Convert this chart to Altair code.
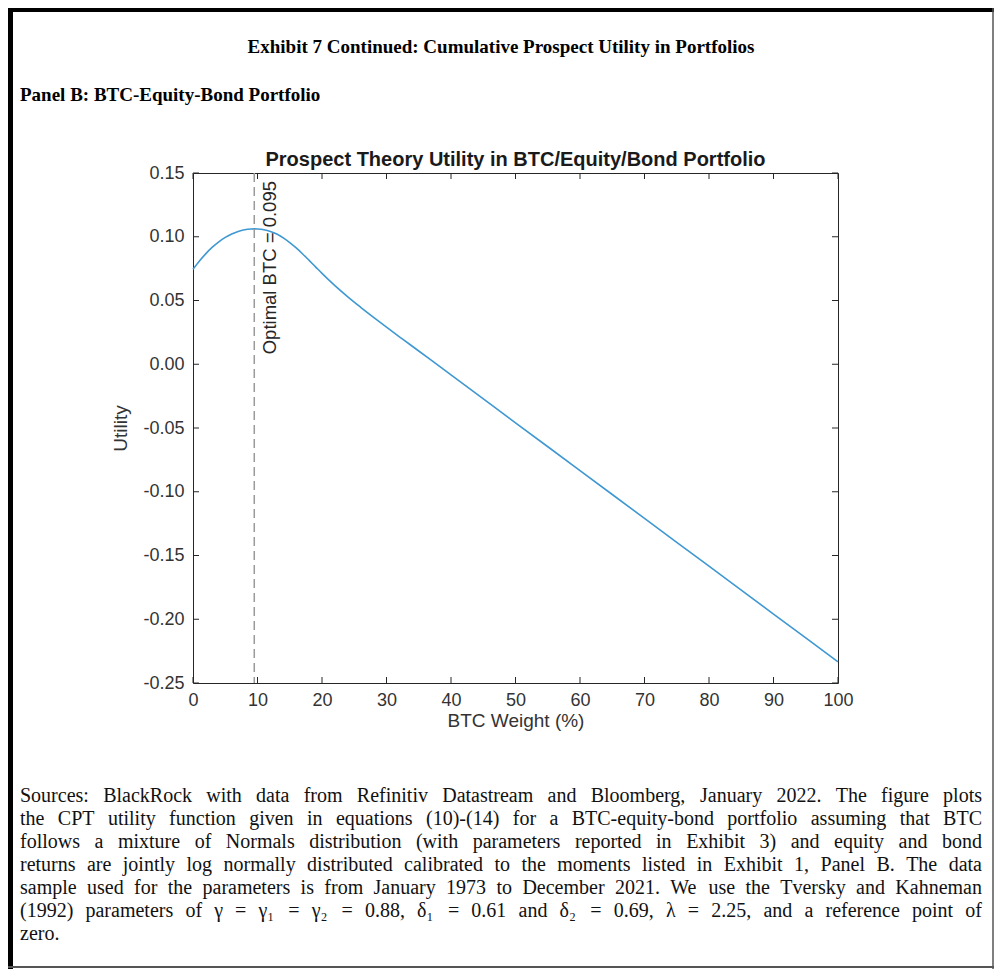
import altair as alt
import pandas as pd

# ---------------- data ----------------
btc_weight = [0, 1, 2, 3, 4, 5, 6, 7, 8, 9, 9.5, 10, 11, 12, 13, 14, 15, 16, 17, 18, 19, 20,
              22, 24, 26, 28, 30, 32.5, 35, 37.5, 40, 50, 60, 70, 80, 90, 100]
utility = [0.0745, 0.0810, 0.0868, 0.0918, 0.0960, 0.0995, 0.1022, 0.1042, 0.1055, 0.1061, 0.1062,
           0.1061, 0.1055, 0.1042, 0.1021, 0.0991, 0.0954, 0.0912, 0.0865, 0.0815, 0.0764, 0.0713,
           0.0617, 0.0529, 0.0447, 0.0368, 0.0291, 0.0197, 0.0104, 0.0010, -0.0084,
           -0.0459, -0.0834, -0.1209, -0.1584, -0.1959, -0.2334]

x_ticks = [0, 10, 20, 30, 40, 50, 60, 70, 80, 90, 100]
y_ticks = [-0.25, -0.20, -0.15, -0.10, -0.05, 0.00, 0.05, 0.10, 0.15]

optimal_btc = [9.5]
optimal_label = ["Optimal BTC = 0.095"]

exhibit_title = "Exhibit 7 Continued: Cumulative Prospect Utility in Portfolios"
panel_title = "Panel B: BTC-Equity-Bond Portfolio"
chart_title = "Prospect Theory Utility in BTC/Equity/Bond Portfolio"
x_title = "BTC Weight (%)"
y_title = "Utility"
source_lines = [
    "Sources: BlackRock with data from Refinitiv Datastream and Bloomberg, January 2022. The figure plots",
    "the CPT utility function given in equations (10)-(14) for a BTC-equity-bond portfolio assuming that BTC",
    "follows a mixture of Normals distribution (with parameters reported in Exhibit 3) and equity and bond",
    "returns are jointly log normally distributed calibrated to the moments listed in Exhibit 1, Panel B. The data",
    "sample used for the parameters is from January 1973 to December 2021. We use the Tversky and Kahneman",
    "(1992) parameters of \u03b3 = \u03b3\u2081 = \u03b3\u2082 = 0.88, \u03b4\u2081 = 0.61 and \u03b4\u2082 = 0.69, \u03bb = 2.25, and a reference point of",
    "zero.",
]

# ---------------- layout / style ----------------
W, H = 645, 510
SANS = "Liberation Sans"
SERIF = "Liberation Serif"
AX_COL = "#333333"
LINE_COL = "#3f98d2"

PARA_SIZE = 20
PARA_LEFT, PARA_RIGHT = -173, 789
PARA_TOP, PARA_STEP = 623, 23

TIMES = {' ': 250, '!': 333, '%': 833, '(': 333, ')': 333, ',': 250, '-': 333, '.': 250,
         ':': 278, ';': 278, '=': 564,
         'A': 722, 'B': 667, 'C': 667, 'D': 722, 'E': 611, 'F': 556, 'G': 722, 'H': 722,
         'I': 333, 'J': 389, 'K': 722, 'L': 611, 'M': 889, 'N': 722, 'O': 722, 'P': 556,
         'Q': 722, 'R': 667, 'S': 556, 'T': 611, 'U': 722, 'V': 722, 'W': 944, 'X': 722,
         'Y': 722, 'Z': 611,
         'a': 444, 'b': 500, 'c': 444, 'd': 500, 'e': 444, 'f': 333, 'g': 500, 'h': 500,
         'i': 278, 'j': 278, 'k': 500, 'l': 278, 'm': 778, 'n': 500, 'o': 500, 'p': 500,
         'q': 500, 'r': 333, 's': 389, 't': 278, 'u': 500, 'v': 500, 'w': 722, 'x': 500,
         'y': 500, 'z': 444,
         '\u03b3': 430, '\u03b4': 480, '\u03bb': 480, '\u2081': 450, '\u2082': 450}


def text_width(s, size):
    return sum(TIMES.get(c, 500) for c in s) * size / 1000.0


rows = []
for i, line in enumerate(source_lines):
    words = line.split(" ")
    py = PARA_TOP + i * PARA_STEP
    if i == len(source_lines) - 1 or len(words) == 1:
        gap = text_width(" ", PARA_SIZE)
    else:
        total = sum(text_width(w, PARA_SIZE) for w in words)
        gap = (PARA_RIGHT - PARA_LEFT - total) / (len(words) - 1)
    px = PARA_LEFT
    for w in words:
        rows.append({"word": w, "px": px, "py": py})
        px += text_width(w, PARA_SIZE) + gap
words_df = pd.DataFrame(rows)

curve_df = pd.DataFrame({"w": btc_weight, "u": utility})
xt_df = pd.DataFrame({"t": x_ticks})
yt_df = pd.DataFrame({"t": y_ticks})
opt_df = pd.DataFrame({"w": optimal_btc, "label": optimal_label})
one = pd.DataFrame({"k": [0]})

xs = alt.Scale(domain=[0, 100], nice=False, zero=False)
ys = alt.Scale(domain=[-0.25, 0.15], nice=False, zero=False)

y_label_expr = ("datum.value < 0 ? '-' + format(-datum.value, '.2f') : "
                "format(datum.value, '.2f')")

curve = alt.Chart(curve_df).mark_line(color=LINE_COL, strokeWidth=1.6, interpolate="monotone").encode(
    x=alt.X("w:Q", scale=xs, title=x_title,
            axis=alt.Axis(values=x_ticks, tickSize=0, domain=False, grid=False,
                          labelFontSize=18, labelFont=SANS, labelColor=AX_COL,
                          labelPadding=8, titleFont=SANS, titleFontSize=19,
                          titleFontWeight="normal", titleColor=AX_COL, titlePadding=2,
                          labelFlush=False)),
    y=alt.Y("u:Q", scale=ys, title=y_title,
            axis=alt.Axis(values=y_ticks, tickSize=0, domain=False, grid=False,
                          labelExpr=y_label_expr,
                          labelFontSize=18, labelFont=SANS, labelColor=AX_COL,
                          labelPadding=9, titleFont=SANS, titleFontSize=19,
                          titleFontWeight="normal", titleColor=AX_COL, titlePadding=12,
                          labelFlush=False)),
)

TICK_LEN = 6
tick_style = dict(color="#262626", strokeWidth=1)
x_bottom = alt.Chart(xt_df).mark_rule(**tick_style).encode(
    x=alt.X("t:Q", scale=xs, axis=None), y=alt.value(H), y2=alt.value(H - TICK_LEN))
x_top = alt.Chart(xt_df).mark_rule(**tick_style).encode(
    x=alt.X("t:Q", scale=xs, axis=None), y=alt.value(0), y2=alt.value(TICK_LEN))
y_left = alt.Chart(yt_df).mark_rule(**tick_style).encode(
    y=alt.Y("t:Q", scale=ys, axis=None), x=alt.value(0), x2=alt.value(TICK_LEN))
y_right = alt.Chart(yt_df).mark_rule(**tick_style).encode(
    y=alt.Y("t:Q", scale=ys, axis=None), x=alt.value(W), x2=alt.value(W - TICK_LEN))

opt_line = alt.Chart(opt_df).mark_rule(color="#9a9a9a", strokeWidth=1.5,
                                       strokeDash=[9, 5]).encode(
    x=alt.X("w:Q", scale=xs, axis=None), y=alt.value(0), y2=alt.value(H))

opt_text = alt.Chart(opt_df).mark_text(
    angle=270, align="right", baseline="top", dy=7, font=SANS, fontSize=18.5,
    color="#262626").encode(
    x=alt.X("w:Q", scale=xs, axis=None), y=alt.value(8), text="label:N")


def label(text, x, y, **kw):
    return alt.Chart(pd.DataFrame({"t": [text]})).mark_text(**kw).encode(
        text="t:N", x=alt.value(x), y=alt.value(y))


title_txt = label(chart_title, W / 2, -13, font=SANS, fontSize=20, fontWeight="bold",
                  color="#1a1a1a", align="center", baseline="middle")
exhibit_txt = label(exhibit_title, 308, -126, font=SERIF, fontSize=19, fontWeight="bold",
                    color="#000000", align="center", baseline="middle")
panel_txt = label(panel_title, -173, -78, font=SERIF, fontSize=19, fontWeight="bold",
                  color="#000000", align="left", baseline="middle")

para = alt.Chart(words_df).mark_text(font=SERIF, fontSize=PARA_SIZE, color="#111111",
                                      align="left", baseline="middle").encode(
    x=alt.X("px:Q", scale=None, axis=None),
    y=alt.Y("py:Q", scale=None, axis=None),
    text="word:N")

# frame of the exhibit
frame_left = alt.Chart(one).mark_rule(color="#000000", strokeWidth=5).encode(
    x=alt.value(-182.5), y=alt.value(-165), y2=alt.value(796))
frame_top = alt.Chart(one).mark_rule(color="#000000", strokeWidth=5).encode(
    y=alt.value(-163.5), x=alt.value(-185), x2=alt.value(801))
frame_right = alt.Chart(one).mark_rule(color="#555555", strokeWidth=1.5).encode(
    x=alt.value(800), y=alt.value(-165), y2=alt.value(796))
frame_bottom = alt.Chart(one).mark_rule(color="#555555", strokeWidth=2).encode(
    y=alt.value(794), x=alt.value(-185), x2=alt.value(801))

chart = alt.layer(
    curve, opt_line, opt_text, x_bottom, x_top, y_left, y_right,
    title_txt, exhibit_txt, panel_txt, para,
    frame_left, frame_top, frame_right, frame_bottom,
).resolve_scale(x="independent", y="independent").properties(
    width=W, height=H,
    autosize=alt.AutoSizeParams(type="none"),
    padding={"left": 185, "top": 165, "right": 156, "bottom": 286},
    background="white",
).configure_view(stroke="#262626", strokeWidth=1)

chart.save("out.html", embed_options={"renderer": "svg", "actions": False})
